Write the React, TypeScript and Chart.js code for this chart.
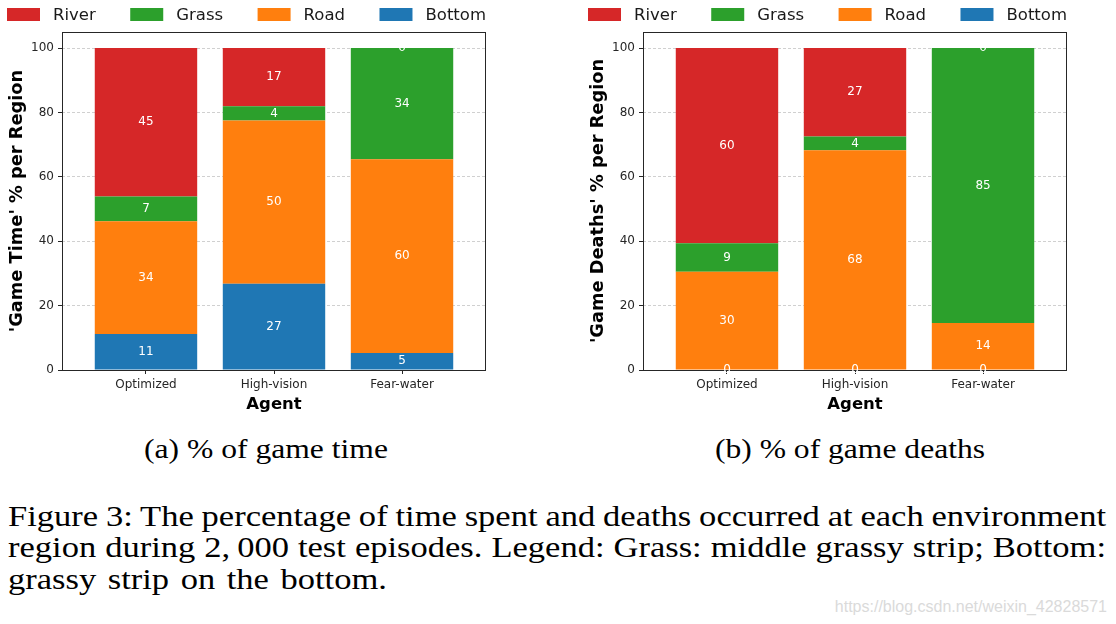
import React, { useEffect, useRef } from "react";
import { Chart, registerables } from "chart.js";

Chart.register(...registerables);

// ---------- data ----------
const agents = ["Optimized", "High-vision", "Fear-water"];
const regions = ["Bottom", "Road", "Grass", "River"]; // stacking order, bottom -> top
const regionColors = ["#1f77b4", "#ff7f0e", "#2ca02c", "#d62728"];
const yTicks = [0, 20, 40, 60, 80, 100];

// (a) % of game time — segment heights
const timeBottom = [11.2, 26.8, 5.3];
const timeRoad = [35.0, 50.7, 60.2];
const timeGrass = [7.7, 4.4, 34.5];
const timeRiver = [46.1, 18.1, 0];
// printed numbers
const timeBottomLabels = [11, 27, 5];
const timeRoadLabels = [34, 50, 60];
const timeGrassLabels = [7, 4, 34];
const timeRiverLabels = [45, 17, 0];

// (b) % of game deaths — segment heights
const deathBottom = [0, 0, 0];
const deathRoad = [30.5, 68.3, 14.6];
const deathGrass = [8.9, 4.2, 85.4];
const deathRiver = [60.6, 27.5, 0];
// printed numbers
const deathBottomLabels = [0, 0, 0];
const deathRoadLabels = [30, 68, 14];
const deathGrassLabels = [9, 4, 85];
const deathRiverLabels = [60, 27, 0];

const FONT = "DejaVu Sans";

// ---------- plugins ----------
const framePlugin = {
  id: "mplFrame",
  afterDatasetsDraw(chart: any) {
    const { ctx, chartArea } = chart;
    ctx.save();
    ctx.strokeStyle = "#262626";
    ctx.lineWidth = 1;
    ctx.strokeRect(
      Math.round(chartArea.left) + 0.5,
      Math.round(chartArea.top) + 0.5,
      Math.round(chartArea.right - chartArea.left) - 1,
      Math.round(chartArea.bottom - chartArea.top)
    );
    ctx.restore();
  },
};

const valueLabelPlugin = {
  id: "valueLabels",
  afterDatasetsDraw(chart: any) {
    const { ctx } = chart;
    ctx.save();
    ctx.font = `12px "${FONT}"`;
    ctx.fillStyle = "#ffffff";
    ctx.textAlign = "center";
    ctx.textBaseline = "middle";
    chart.data.datasets.forEach((ds: any, di: number) => {
      const meta = chart.getDatasetMeta(di);
      meta.data.forEach((el: any, i: number) => {
        const p = el.getProps(["x", "y", "base"], true);
        ctx.fillText(String(ds.printed[i]), p.x, (p.y + p.base) / 2);
      });
    });
    ctx.restore();
  },
};

const legendPlugin = {
  id: "mplLegend",
  afterDraw(chart: any, _args: any, opts: any) {
    const { ctx, chartArea } = chart;
    const items = [...chart.data.datasets].reverse();
    const left = chartArea.left - opts.leftOffset;
    const right = chartArea.right;
    const boxW = opts.boxWidth;
    const boxH = opts.boxHeight;
    const pad = opts.textPad;
    const cy = opts.centerY;
    ctx.save();
    ctx.font = `${opts.fontSize}px "${FONT}"`;
    const widths = items.map((d: any) => boxW + pad + ctx.measureText(d.label).width);
    const total = widths.reduce((a: number, b: number) => a + b, 0);
    const gap = (right - left - total) / (items.length - 1);
    let x = left;
    items.forEach((d: any, i: number) => {
      ctx.fillStyle = d.backgroundColor;
      ctx.fillRect(x, cy - boxH / 2, boxW, boxH);
      ctx.fillStyle = "#1a1a1a";
      ctx.textAlign = "left";
      ctx.textBaseline = "middle";
      ctx.fillText(d.label, x + boxW + pad, cy + 1);
      x += widths[i] + gap;
    });
    ctx.restore();
  },
};

function makeConfig(series: number[][], printed: number[][], yTitle: string): any {
  return {
    type: "bar",
    data: {
      datasets: regions.map((r, ri) => ({
        label: r,
        data: agents.map((_, i) => ({ x: i, y: series[ri][i] })),
        printed: printed[ri],
        backgroundColor: regionColors[ri],
        borderWidth: 0,
        barPercentage: 0.8,
        categoryPercentage: 1,
      })),
    },
    options: {
      responsive: false,
      animation: false,
      events: [],
      layout: { padding: { left: 0, right: 14, top: 32, bottom: 0 } },
      plugins: {
        legend: { display: false },
        tooltip: { enabled: false },
        mplLegend: {
          leftOffset: 55,
          boxWidth: 33,
          boxHeight: 13,
          textPad: 13,
          centerY: 14.5,
          fontSize: 16.5,
        },
      },
      scales: {
        x: {
          type: "linear",
          min: -0.656,
          max: 2.656,
          offset: false,
          stacked: true,
          afterBuildTicks: (s: any) => {
            s.ticks = agents.map((_, i) => ({ value: i }));
          },
          afterFit: (s: any) => {
            s.height = 50;
          },
          ticks: {
            callback: (v: number) => agents[v] ?? "",
            font: { family: FONT, size: 12 },
            color: "#262626",
            padding: 4,
            maxRotation: 0,
            autoSkip: false,
          },
          grid: {
            offset: false,
            drawOnChartArea: false,
            drawTicks: true,
            tickLength: 4,
            tickColor: "#262626",
            color: "#262626",
          },
          border: { display: false },
          title: {
            display: true,
            text: "Agent",
            color: "#000",
            font: { family: FONT, size: 16.5, weight: "bold" },
            padding: { top: 0, bottom: 5 },
          },
        },
        y: {
          type: "linear",
          min: 0,
          max: 105,
          stacked: true,
          afterBuildTicks: (s: any) => {
            s.ticks = yTicks.map((v) => ({ value: v }));
          },
          afterFit: (s: any) => {
            s.width = 62;
          },
          ticks: {
            font: { family: FONT, size: 12 },
            color: "#262626",
            padding: 4,
          },
          grid: {
            color: "rgba(170,170,170,0.55)",
            lineWidth: 1,
            tickLength: 4,
            tickColor: "#262626",
            tickWidth: 1,
            tickBorderDash: [],
          },
          border: { display: false, dash: [3, 2] },
          title: {
            display: true,
            text: yTitle,
            color: "#000",
            font: { family: FONT, size: 17.8, weight: "bold" },
            padding: { top: 6.8, bottom: 0 },
          },
        },
      },
    },
    plugins: [framePlugin, valueLabelPlugin, legendPlugin],
  };
}

function StackChart(props: {
  series: number[][];
  printed: number[][];
  yTitle: string;
  left: number;
}) {
  const ref = useRef<HTMLCanvasElement | null>(null);
  useEffect(() => {
    if (!ref.current) return;
    const chart = new Chart(ref.current, makeConfig(props.series, props.printed, props.yTitle));
    return () => chart.destroy();
  }, []);
  return (
    <canvas
      ref={ref}
      width={500}
      height={420}
      style={{ position: "absolute", left: props.left, top: 0, width: 500, height: 420 }}
    />
  );
}

const serif = '"Liberation Serif", "Times New Roman", serif';
const STRETCH = 1.17;

export default function App() {
  const bodyLine: React.CSSProperties = {
    position: "absolute",
    left: 8,
    width: 1098 / STRETCH,
    fontFamily: serif,
    fontSize: 29.5,
    lineHeight: "30px",
    color: "#000",
    whiteSpace: "nowrap",
    wordSpacing: 2.5,
    transform: `scaleX(${STRETCH})`,
    transformOrigin: "0 0",
  };
  const justified: React.CSSProperties = {
    ...bodyLine,
    textAlign: "justify",
    textAlignLast: "justify" as any,
    whiteSpace: "normal",
    wordSpacing: -2,
  };
  const caption = (cx: number): React.CSSProperties => ({
    position: "absolute",
    left: cx - 250,
    width: 500,
    top: 434,
    textAlign: "center",
    fontFamily: serif,
    fontSize: 27,
    lineHeight: "30px",
    color: "#000",
    transform: `scaleX(${STRETCH})`,
    transformOrigin: "50% 0",
  });
  return (
    <div
      style={{
        position: "absolute",
        left: 0,
        top: 0,
        width: 1116,
        height: 624,
        background: "#fff",
        overflow: "hidden",
      }}
    >
      <StackChart
        series={[timeBottom, timeRoad, timeGrass, timeRiver]}
        printed={[timeBottomLabels, timeRoadLabels, timeGrassLabels, timeRiverLabels]}
        yTitle="'Game Time' % per Region"
        left={0}
      />
      <StackChart
        series={[deathBottom, deathRoad, deathGrass, deathRiver]}
        printed={[deathBottomLabels, deathRoadLabels, deathGrassLabels, deathRiverLabels]}
        yTitle="'Game Deaths' % per Region"
        left={581}
      />
      <div style={caption(266)}>(a) % of game time</div>
      <div style={caption(850)}>(b) % of game deaths</div>
      <div style={{ ...justified, top: 501 }}>
        Figure 3: The percentage of time spent and deaths occurred at each environment
      </div>
      <div style={{ ...justified, top: 532 }}>
        region during 2,{"\u2009"}000 test episodes. Legend: Grass: middle grassy strip; Bottom:
      </div>
      <div style={{ ...bodyLine, top: 564 }}>grassy strip on the bottom.</div>
      <div
        style={{
          position: "absolute",
          right: 9,
          top: 597.5,
          fontFamily: '"Liberation Sans Narrow", "Liberation Sans", sans-serif',
          fontSize: 16,
          lineHeight: "18px",
          color: "#dadada",
        }}
      >
        https://blog.csdn.net/weixin_42828571
      </div>
    </div>
  );
}
